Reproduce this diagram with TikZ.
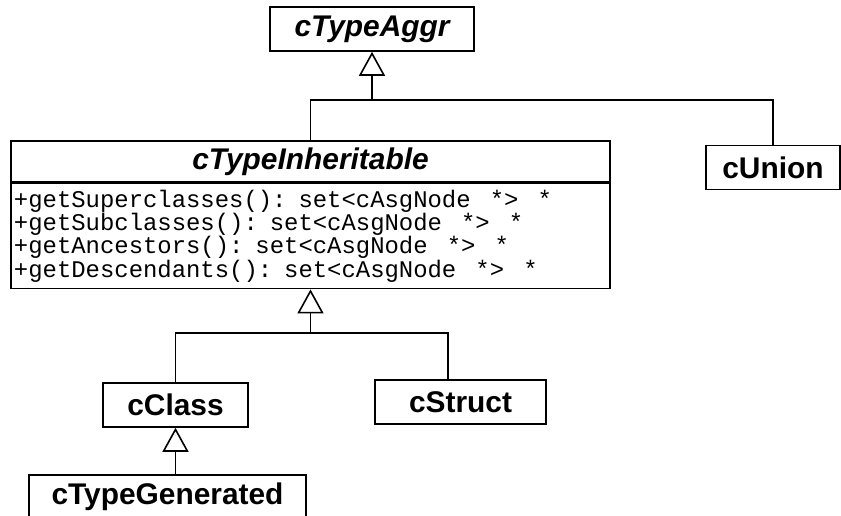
\documentclass[tikz,border=0pt]{standalone}
\usepackage{fontspec}
\setmainfont{Liberation Sans}
\setmonofont{Liberation Mono}
\usetikzlibrary{arrows.meta,positioning}
\newcommand\methodfont{\fontsize{24}{23.3}\selectfont\ttfamily}
\newcommand\starsp{\hspace{0.8em}}
\tikzset{
  classbox/.style={draw,line width=1.6bp,fill=white,inner sep=0pt,minimum height=44bp,
    font=\fontsize{30}{32}\selectfont\bfseries},
  abstractbox/.style={classbox,font=\fontsize{30}{32}\selectfont\bfseries\itshape},
  methodbox/.style={draw,line width=1.6bp,inner xsep=3bp,inner ysep=0pt,text width=593bp,
    minimum height=105bp,align=left,font=\methodfont},
  genline/.style={line width=1.6bp},
  genarrow/.style={line width=1.6bp,-{Triangle[open,length=24bp,width=26bp]}}
}
\begin{document}
\begin{tikzpicture}[x=1bp,y=-1bp]
  \useasboundingbox (0,0) rectangle (841,516);
  % classes
  \node[abstractbox,minimum width=204bp] (aggr) at (372,29) {cTypeAggr};
  \node[abstractbox,minimum width=599bp,minimum height=41bp] (inhtitle) at (310.5,161.5) {cTypeInheritable};
  \node[methodbox,below=0pt of inhtitle] (inhbody) {+getSuperclasses(): set<cAsgNode\starsp*>\starsp*\\
    +getSubclasses(): set<cAsgNode\starsp*>\starsp*\\
    +getAncestors(): set<cAsgNode\starsp*>\starsp*\\
    +getDescendants(): set<cAsgNode\starsp*>\starsp*};
  \node[classbox,minimum width=134bp] (union) at (773,167.5) {cUnion};
  \node[classbox,minimum width=145bp] (class) at (175.5,405) {cClass};
  \node[classbox,minimum width=171bp] (struct) at (460.5,402) {cStruct};
  \node[classbox,minimum width=277bp] (gen) at (167.5,497) {cTypeGenerated};
  % generalisations
  \coordinate (aggrbus) at (aggr.south |- 0,100);
  \draw[genline] (inhtitle.north) |- (aggrbus);
  \draw[genline] (union.north) |- (aggrbus);
  \draw[genarrow] (aggrbus) -- (aggr.south);
  \coordinate (inhbus) at (inhbody.south |- 0,333);
  \draw[genline] (class.north) |- (inhbus);
  \draw[genline] (struct.north -| 448,0) |- (inhbus);
  \draw[genarrow] (inhbus) -- (inhbody.south);
  \draw[genarrow] (gen.north -| class.south) -- (class.south);
\end{tikzpicture}
\end{document}
